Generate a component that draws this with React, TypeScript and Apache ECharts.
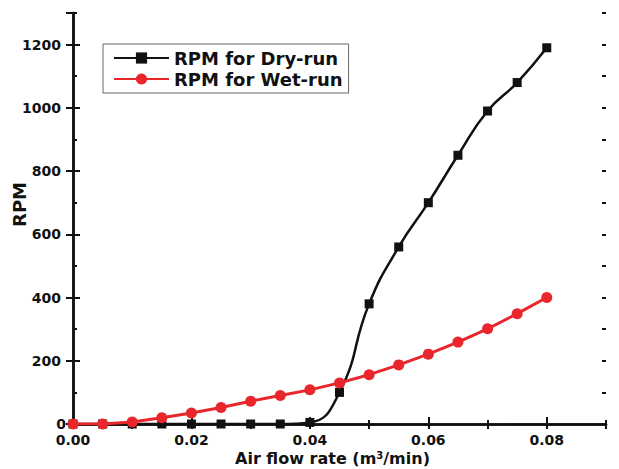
import React, { useEffect, useRef } from "react";
import * as echarts from "echarts";

const airFlow = [0, 0.005, 0.01, 0.015, 0.02, 0.025, 0.03, 0.035, 0.04, 0.045, 0.05, 0.055, 0.06, 0.065, 0.07, 0.075, 0.08];
const rpmDry = [0, 0, 0, 0, 0, 0, 0, 0, 5, 100, 380, 560, 700, 850, 990, 1080, 1190];
const rpmWet = [0, 0, 6, 20, 35, 52, 72, 90, 108, 130, 156, 187, 221, 259, 301, 349, 400];
const xTickLabels = ["0.00", "0.02", "0.04", "0.06", "0.08"];
const yTickLabels = ["0", "200", "400", "600", "800", "1000", "1200"];
const seriesNames = ["RPM for Dry-run", "RPM for Wet-run"];

const FONT = "DejaVu Sans";
const BLACK = "#111111";
const RED = "#e8262b";

export default function App() {
  const ref = useRef<HTMLDivElement>(null);
  useEffect(() => {
    if (!ref.current) return;
    const chart = echarts.init(ref.current, undefined, { renderer: "svg" });
    const axisLine = { show: true, lineStyle: { color: BLACK, width: 2.5 } };
    const noLabel = { show: false };
    const common = { min: 0, splitLine: { show: false } };
    chart.setOption({
      animation: false,
      backgroundColor: "#ffffff",
      grid: { left: 73, right: 13, top: 13, bottom: 45, outerBoundsMode: "none", containLabel: false },
      legend: {
        orient: "vertical",
        left: 103,
        top: 44,
        padding: [5, 6, 5, 10],
        itemGap: 3,
        itemWidth: 55,
        itemHeight: 14,
        borderColor: "#666666",
        borderWidth: 1,
        textStyle: { fontFamily: FONT, fontWeight: "bold", fontSize: 18, color: "#111", lineHeight: 18 },
        data: seriesNames,
      },
      xAxis: [
        {
          ...common,
          type: "value",
          max: 0.09,
          interval: 0.02,
          position: "bottom",
          axisLine,
          axisTick: { inside: true, length: 7, lineStyle: { color: BLACK, width: 2 } },
          axisLabel: {
            showMaxLabel: false,
            alignMinLabel: "center",
            margin: 10,
            lineHeight: 12,
            fontFamily: FONT,
            fontWeight: "bold",
            fontSize: 14,
            color: "#111",
            formatter: (v: number) => xTickLabels[Math.round(v / 0.02)] ?? "",
          },
          name: "Air flow rate (m{sup|3}/min)",
          nameLocation: "middle",
          nameGap: 26,
          nameMoveOverlap: false,
          nameTextStyle: {
            fontFamily: FONT,
            fontWeight: "bold",
            fontSize: 16,
            color: "#111",
            padding: [0, 14, 0, 0],
            rich: {
              sup: { fontFamily: FONT, fontWeight: "bold", fontSize: 10, verticalAlign: "top", padding: [0, 0, 7, 0], color: "#111" },
            },
          },
        },
        {
          ...common,
          type: "value",
          max: 0.09,
          interval: 0.01,
          position: "bottom",
          axisLine: { show: false },
          axisTick: { inside: true, length: 4, lineStyle: { color: BLACK, width: 2 } },
          axisLabel: noLabel,
        },
        {
          ...common,
          type: "value",
          max: 0.09,
          interval: 0.01,
          position: "top",
          axisLine,
          axisTick: { inside: true, length: 5, lineStyle: { color: BLACK, width: 2 } },
          axisLabel: noLabel,
        },
      ],
      yAxis: [
        {
          ...common,
          type: "value",
          max: 1300,
          interval: 200,
          position: "left",
          axisLine,
          axisTick: { inside: true, length: 7, lineStyle: { color: BLACK, width: 2 } },
          axisLabel: {
            showMaxLabel: false,
            alignMinLabel: "center",
            margin: 12,
            lineHeight: 10,
            fontFamily: FONT,
            fontWeight: "bold",
            fontSize: 14,
            color: "#111",
            formatter: (v: number) => yTickLabels[Math.round(v / 200)] ?? "",
          },
          name: "RPM",
          nameLocation: "middle",
          nameGap: 45,
          nameMoveOverlap: false,
          nameTextStyle: { fontFamily: FONT, fontWeight: "bold", fontSize: 18, color: "#111", padding: [0, 0, 0, 28] },
        },
        {
          ...common,
          type: "value",
          max: 1300,
          interval: 100,
          position: "left",
          axisLine: { show: false },
          axisTick: { inside: true, length: 4, lineStyle: { color: BLACK, width: 2 } },
          axisLabel: noLabel,
        },
        {
          ...common,
          type: "value",
          max: 1300,
          interval: 200,
          position: "right",
          axisLine,
          axisTick: { inside: true, length: 7, lineStyle: { color: BLACK, width: 2 } },
          axisLabel: noLabel,
        },
        {
          ...common,
          type: "value",
          max: 1300,
          interval: 100,
          position: "right",
          axisLine: { show: false },
          axisTick: { inside: true, length: 4, lineStyle: { color: BLACK, width: 2 } },
          axisLabel: noLabel,
        },
      ],
      series: [
        {
          name: seriesNames[0],
          type: "line",
          xAxisIndex: 0,
          yAxisIndex: 0,
          data: airFlow.map((x, i) => [x, rpmDry[i]]),
          smooth: 0.5,
          symbol: "rect",
          symbolSize: 9,
          itemStyle: { color: BLACK },
          lineStyle: { color: BLACK, width: 2.5 },
        },
        {
          name: seriesNames[1],
          type: "line",
          xAxisIndex: 0,
          yAxisIndex: 0,
          data: airFlow.map((x, i) => [x, rpmWet[i]]),
          symbol: "circle",
          symbolSize: 11,
          itemStyle: { color: RED },
          lineStyle: { color: RED, width: 3 },
        },
      ],
    });
    return () => chart.dispose();
  }, []);
  return (
    <div
      ref={ref}
      style={{ position: "fixed", left: 0, top: 0, width: 619, height: 469, background: "#fff" }}
    />
  );
}
